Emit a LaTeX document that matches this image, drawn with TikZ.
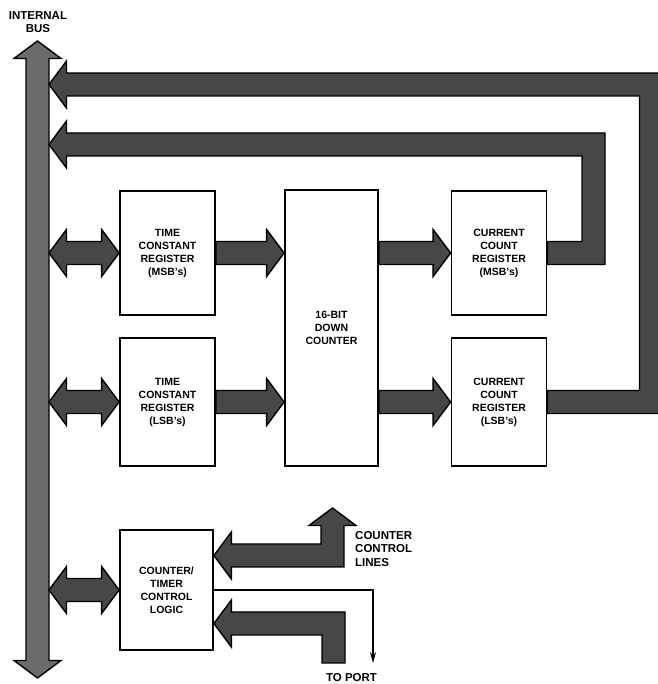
\documentclass[tikz,border=0pt]{standalone}
\usepackage{fontspec}
\setmainfont{Liberation Sans}
\usetikzlibrary{calc,arrows.meta}
\newcommand{\fatsw}{11.5}
\newcommand{\fathw}{23.5}
\newcommand{\fathl}{17.5}
\newcommand{\boxfont}{\bfseries\fontsize{10.5}{13}\selectfont}
\newcommand{\outfont}{\bfseries\fontsize{11.5}{13.5}\selectfont}
\tikzset{
	box/.style={draw, line width=1.8pt, minimum width=95pt, minimum height=124pt, align=center, inner sep=0pt, font=\boxfont},
	fat/.style={draw=black, line width=1.4pt, fill=black!72, line join=miter},
	outlbl/.style={font=\outfont, inner sep=0pt}
}
% right-pointing fat arrow
\newcommand{\fatright}[2]{\draw[fat] ($#1+(0,\fatsw)$) -- ($#2+(-\fathl,\fatsw)$) -- ($#2+(-\fathl,\fathw)$) -- #2 -- ($#2+(-\fathl,-\fathw)$) -- ($#2+(-\fathl,-\fatsw)$) -- ($#1+(0,-\fatsw)$) -- cycle;}
% fat arrow with both ends
\newcommand{\fatboth}[2]{\draw[fat] #1 -- ($#1+(\fathl,\fathw)$) -- ($#1+(\fathl,\fatsw)$) -- ($#2+(-\fathl,\fatsw)$) -- ($#2+(-\fathl,\fathw)$) -- #2 -- ($#2+(-\fathl,-\fathw)$) -- ($#2+(-\fathl,-\fatsw)$) -- ($#1+(\fathl,-\fatsw)$) -- ($#1+(\fathl,-\fathw)$) -- cycle;}
% feedback: right, up, then left to the bus
\newcommand{\fatback}[3]{\draw[fat] ($(#1)+(0,\fatsw)$) -- ($(#2 |- #1)+(-\fatsw,\fatsw)$) -- ($(#2)+(-\fatsw,-\fatsw)$) -- ($(#3 |- #2)+(\fathl,-\fatsw)$) -- ($(#3 |- #2)+(\fathl,-\fathw)$) -- (#3 |- #2) -- ($(#3 |- #2)+(\fathl,\fathw)$) -- ($(#3 |- #2)+(\fathl,\fatsw)$) -- ($(#2)+(\fatsw,\fatsw)$) -- ($(#2 |- #1)+(\fatsw,-\fatsw)$) -- ($(#1)+(0,-\fatsw)$) -- cycle;}
\begin{document}
\begin{tikzpicture}[x=1pt, y=1pt]
	\useasboundingbox (0,0) rectangle (657,684);
	\node[box] (tcm) at (167.5,431) {TIME\\CONSTANT\\REGISTER\\(MSB's)};
	\node[box, minimum height=128pt] (tcl) at (167.5,282) {TIME\\CONSTANT\\REGISTER\\(LSB's)};
	\node[box, minimum width=93pt, minimum height=276pt] (dc) at (331.5,356) {16-BIT\\DOWN\\COUNTER};
	\node[box] (ccm) at (499,431) {CURRENT\\COUNT\\REGISTER\\(MSB's)};
	\node[box, minimum height=128pt] (ccl) at (499,282) {CURRENT\\COUNT\\REGISTER\\(LSB's)};
	\node[box, minimum width=93pt, minimum height=120pt] (ctl) at (166.5,94) {COUNTER/\\TIMER\\CONTROL\\LOGIC};
	\node[outlbl, align=center] (buslbl) at (38,662) {INTERNAL\\BUS};
	\node[outlbl, align=left, anchor=west] (cclbl) at (355,135) {COUNTER\\CONTROL\\LINES};
	\node[outlbl] (portlbl) at (351.5,6) {TO PORT};
	\coordinate (bustop) at (37.5,643);
	\coordinate (busbot) at (37.5,6);
	\coordinate (busR) at (49,0);
	\coordinate (k1) at (651,599.5);
	\coordinate (k2) at (593.5,539.5);
	\coordinate (c1) at (332.5,128.5);
	\coordinate (c1up) at (332.5,176);
	\coordinate (c2) at (333.5,60.5);
	\coordinate (c2end) at (333.5,21);
	\coordinate (port) at (373,21);
	% internal bus
	\draw[fat, fill=black!58] (bustop) -- ($(bustop)+(\fathw,-\fathl)$) -- ($(bustop)+(\fatsw,-\fathl)$) -- ($(busbot)+(\fatsw,\fathl)$) -- ($(busbot)+(\fathw,\fathl)$) -- (busbot) -- ($(busbot)+(-\fathw,\fathl)$) -- ($(busbot)+(-\fatsw,\fathl)$) -- ($(bustop)+(-\fatsw,-\fathl)$) -- ($(bustop)+(-\fathw,-\fathl)$) -- cycle;
	\fatboth{(busR |- tcm.west)}{(tcm.west)}
	\fatboth{(busR |- tcl.west)}{(tcl.west)}
	\fatboth{(busR |- ctl.west)}{(ctl.west)}
	\fatright{(tcm.east)}{(dc.west |- tcm.east)}
	\fatright{(tcl.east)}{(dc.west |- tcl.east)}
	\fatright{(dc.east |- ccm.west)}{(ccm.west)}
	\fatright{(dc.east |- ccl.west)}{(ccl.west)}
	\fatback{ccl.east}{k1}{busR}
	\fatback{ccm.east}{k2}{busR}
	% counter control lines
	\draw[fat] (ctl.east |- c1) -- ($(ctl.east |- c1)+(\fathl,\fathw)$) -- ($(ctl.east |- c1)+(\fathl,\fatsw)$) -- ($(c1)+(-\fatsw,\fatsw)$) -- ($(c1up)+(-\fatsw,-\fathl)$) -- ($(c1up)+(-\fathw,-\fathl)$) -- (c1up) -- ($(c1up)+(\fathw,-\fathl)$) -- ($(c1up)+(\fatsw,-\fathl)$) -- ($(c1)+(\fatsw,-\fatsw)$) -- ($(ctl.east |- c1)+(\fathl,-\fatsw)$) -- ($(ctl.east |- c1)+(\fathl,-\fathw)$) -- cycle;
	\draw[fat] (ctl.east |- c2) -- ($(ctl.east |- c2)+(\fathl,\fathw)$) -- ($(ctl.east |- c2)+(\fathl,\fatsw)$) -- ($(c2)+(\fatsw,\fatsw)$) -- ($(c2end)+(\fatsw,0)$) -- ($(c2end)+(-\fatsw,0)$) -- ($(c2)+(-\fatsw,-\fatsw)$) -- ($(ctl.east |- c2)+(\fathl,-\fatsw)$) -- ($(ctl.east |- c2)+(\fathl,-\fathw)$) -- cycle;
	\draw[line width=1.1pt, -{Stealth[length=11pt,width=6pt]}] (ctl.east) -| (port);
\end{tikzpicture}
\end{document}
